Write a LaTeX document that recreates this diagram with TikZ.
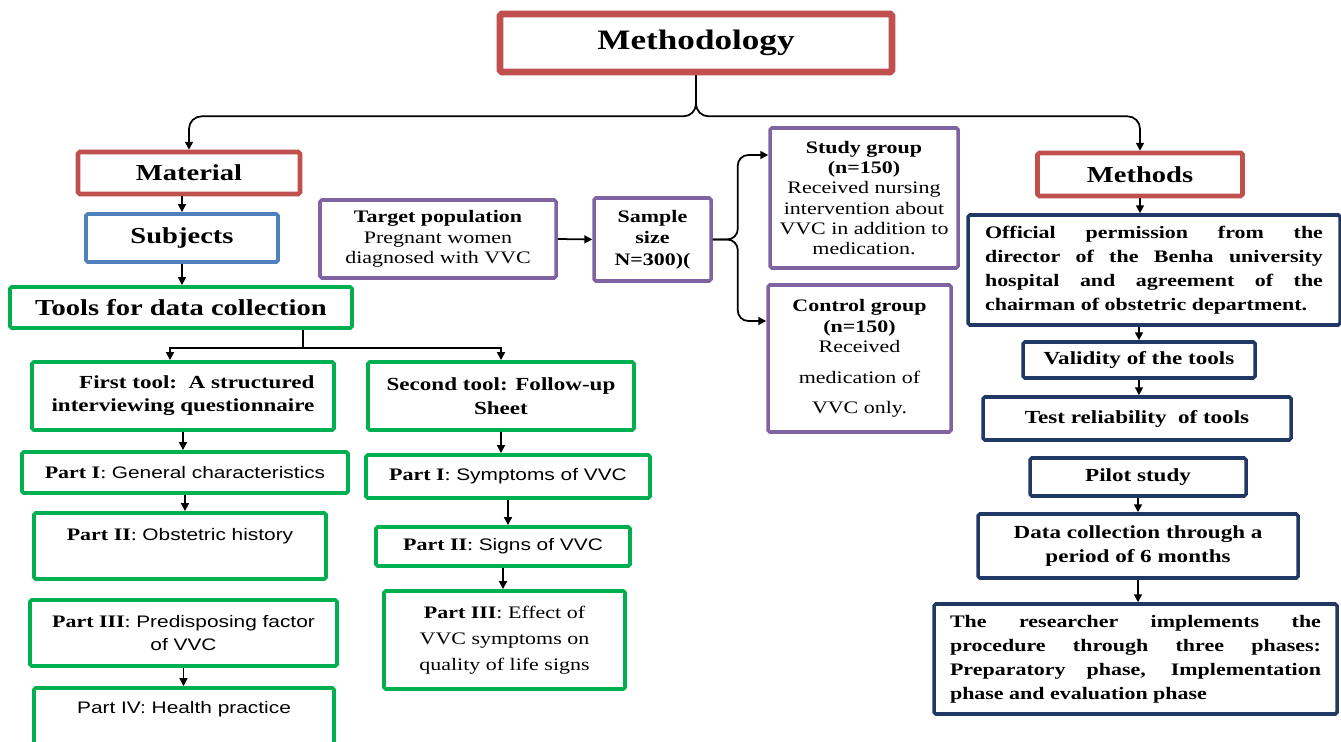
\documentclass[tikz,border=0pt]{standalone}
\usepackage{fontspec}
\setmainfont{Liberation Serif}[FakeStretch=1.25]
\setsansfont{Liberation Sans}[FakeStretch=1.25]
\usetikzlibrary{arrows.meta}
\hyphenpenalty=10000
\exhyphenpenalty=10000

\definecolor{boxred}{HTML}{C0504D}
\definecolor{boxblue}{HTML}{4F81BD}
\definecolor{boxgreen}{HTML}{00B050}
\definecolor{boxpurple}{HTML}{8064A2}
\definecolor{boxnavy}{HTML}{1F3864}

\newcommand{\sanspart}[1]{{\sffamily\fontsize{9.5}{12}\selectfont #1}}

\begin{document}
\begin{tikzpicture}[x=0.02cm, y=-0.02cm,
  arr/.style={-{Triangle[length=4.5pt,width=4.5pt]}, line width=1pt},
  boxsize/.style 2 args={minimum width=#1*0.02cm, minimum height=#2*0.02cm},
  box/.style={draw, rounded corners=1pt, align=center, inner sep=2pt, fill=white,
    font=\fontsize{10}{11.6}\selectfont},
  titlebox/.style={box, draw=boxred, line width=3.8pt, font=\fontsize{16}{18}\selectfont\bfseries},
  redbox/.style={box, draw=boxred, line width=2.6pt, font=\fontsize{13}{15}\selectfont\bfseries},
  bluebox/.style={box, draw=boxblue, line width=2.2pt, font=\fontsize{13}{15}\selectfont\bfseries},
  greenbox/.style={box, draw=boxgreen, line width=2.2pt},
  purplebox/.style={box, draw=boxpurple, line width=2pt},
  navybox/.style={box, draw=boxnavy, line width=2pt, font=\fontsize{10.5}{13.6}\selectfont\bfseries},
  parbox/.style={navybox, align=justify, font=\fontsize{10}{13.6}\selectfont\bfseries}
]

% Page
\useasboundingbox (0,0) rectangle (1341,742);
\clip (0,0) rectangle (1341,742);
\fill[white] (0,0) rectangle (1341,742);

% Title
\node[titlebox, boxsize={392}{58}] (meth) at (696,43) {Methodology};

% Material branch
\node[redbox, boxsize={222}{42}] (mat) at (189,173) {Material};
\node[bluebox, boxsize={192}{48}] (subj) at (182,238) {Subjects};
\node[greenbox, boxsize={342}{41}, font=\fontsize{13}{15}\selectfont\bfseries] (tools) at (181,307.5) {Tools for data collection};

% First tool
\node[greenbox, boxsize={302}{68}, align=right, font=\fontsize{10.5}{13}\selectfont\bfseries] (tool1) at (183,396)
  {First tool:\ \ A structured\\interviewing questionnaire};
\node[greenbox, boxsize={326}{41}] (t1p1) at (185,472.5) {\textbf{Part I}: \sanspart{General characteristics}};
\node[greenbox, boxsize={292}{66}, font=\fontsize{10}{13.6}\selectfont] (t1p2) at (180,546)
  {\textbf{Part II}: \sanspart{Obstetric history}\\ \mbox{}};
\node[greenbox, boxsize={307}{66}, font=\fontsize{10}{13.6}\selectfont] (t1p3) at (183.5,633)
  {\textbf{Part III}: \sanspart{Predisposing factor}\\ \sanspart{of VVC}};
\node[greenbox, boxsize={300}{62}, font=\fontsize{10}{13.6}\selectfont] (t1p4) at (184,719)
  {\sanspart{Part IV: Health practice}\\ \mbox{}};

% Second tool
\node[greenbox, boxsize={266}{68}, font=\fontsize{10.5}{13.6}\selectfont\bfseries] (tool2) at (501,396)
  {Second tool: Follow-up\\Sheet};
\node[greenbox, boxsize={284}{43}] (t2p1) at (508,476.5) {\textbf{Part I}: \sanspart{Symptoms of VVC}};
\node[greenbox, boxsize={254}{39}] (t2p2) at (503,546.5) {\textbf{Part II}: \sanspart{Signs of VVC}};
\node[greenbox, boxsize={241}{98}, font=\fontsize{10}{14.7}\selectfont] (t2p3) at (504.5,640)
  {\textbf{Part III}: Effect of\\VVC symptoms on\\quality of life signs};

% Sample
\node[purplebox, boxsize={236}{78}] (target) at (438,239)
  {\textbf{Target population}\\Pregnant women\\diagnosed with VVC};
\node[purplebox, boxsize={117}{83}, font=\fontsize{10}{12.2}\selectfont\bfseries] (sample) at (652.5,239.5)
  {Sample\\size\\N=300)(};
\node[purplebox, boxsize={188}{140}] (study) at (864,198)
  {\textbf{Study group}\\\textbf{(n=150)}\\Received nursing\\intervention about\\VVC in addition to\\medication.};
\node[purplebox, boxsize={183}{147}] (control) at (859.5,358.5)
  {\textbf{Control group}\\\textbf{(n=150)}\\Received\\[5.7pt]medication of\\[5.7pt]VVC only.};

% Methods branch
\node[redbox, boxsize={205}{43}] (methods) at (1140,174.5) {Methods};
\node[parbox, boxsize={372}{110}, text width=6.76cm] (official) at (1154,270)
  {Official permission from the\linebreak director of the Benha university\linebreak hospital and agreement of the\linebreak chairman of obstetric department.};
\node[navybox, boxsize={232}{36}] (valid) at (1139,360) {Validity of the tools};
\node[navybox, boxsize={308}{43}] (test) at (1137,418.5) {Test reliability\ \ of tools};
\node[navybox, boxsize={216}{38}] (pilot) at (1138,477) {Pilot study};
\node[navybox, boxsize={320}{64}] (datacol) at (1138,546) {Data collection through a\\period of 6 months};
\node[parbox, boxsize={403}{110}, text width=7.42cm] (research) at (1135.5,659)
  {The researcher implements the\linebreak procedure through three phases:\linebreak Preparatory phase, Implementation\linebreak phase and evaluation phase};

% Brace under the title
\draw[arr, rounded corners=0.25cm] (meth.south) -- ++(0,41) -| (mat.north);
\draw[arr, rounded corners=0.25cm] (meth.south) -- ++(0,41) -| (methods.north);

% Material chain
\draw[arr] (subj.north |- mat.south) -- (subj.north);
\draw[arr] (subj.south) -- (subj.south |- tools.north);
\draw[arr] ([xshift=2.44cm]tools.south) -- ++(0,18) coordinate (fork) -| ([xshift=-0.26cm]tool1.north);
\draw[arr] (fork) -| (tool2.north);
\draw[arr] (tool1.south) -- (tool1.south |- t1p1.north);
\draw[arr] (t1p1.south) -- (t1p1.south |- t1p2.north);
\draw[arr] (t1p3.south) -- (t1p3.south |- t1p4.north);
\draw[arr] (tool2.south) -- (tool2.south |- t2p1.north);
\draw[arr] (t2p1.south) -- (t2p1.south |- t2p2.north);
\draw[arr] (t2p2.south) -- (t2p2.south |- t2p3.north);

% Sample split
\draw[arr] (target.east) -- (sample.west);
\draw[arr, rounded corners=6pt] (sample.east) -- ++(25,0) |- ([yshift=0.86cm]study.west);
\draw[arr, rounded corners=6pt] (sample.east) -- ++(25,0) |- ([yshift=0.75cm]control.west);

% Methods chain
\draw[arr] (methods.south) -- (methods.south |- official.north);
\draw[arr] (valid.north |- official.south) -- (valid.north);
\draw[arr] (valid.south) -- (valid.south |- test.north);
\draw[arr] (pilot.south) -- (pilot.south |- datacol.north);
\draw[arr] (datacol.south) -- (datacol.south |- research.north);

\end{tikzpicture}
\end{document}
